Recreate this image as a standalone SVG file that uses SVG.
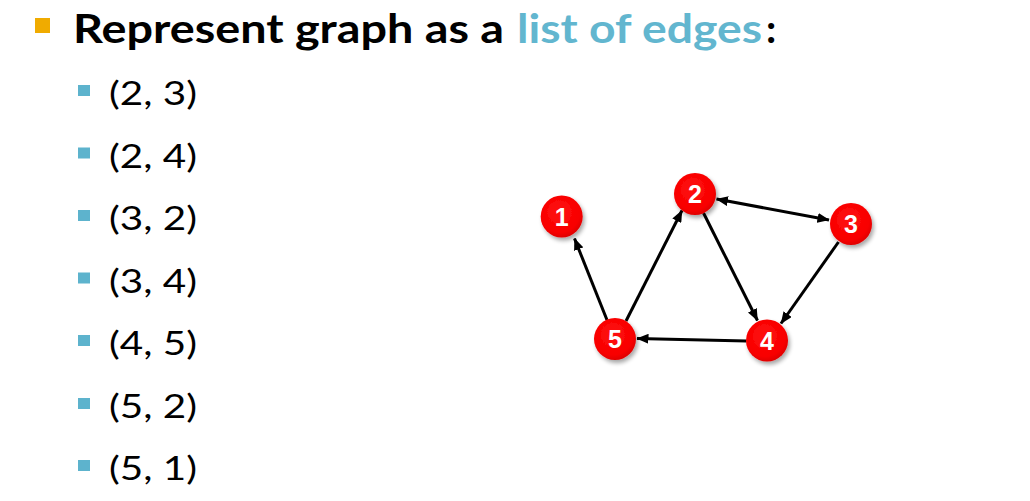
<svg xmlns="http://www.w3.org/2000/svg" width="1030" height="501" viewBox="0 0 1030 501">
<style>
.title{font-family:Lato,"Open Sans","Liberation Sans",sans-serif;font-weight:bold;font-size:40px;fill:#000}
.hl{fill:#62B6CF}
.item{font-family:Lato,"Open Sans","Liberation Sans",sans-serif;font-size:33px;fill:#000}
.b2{fill:#5DB3CD}
.node circle{fill:url(#rg);filter:url(#sh)}
.node text{font-family:"Liberation Sans",Arial,sans-serif;font-weight:bold;font-size:25px;fill:#fff;text-anchor:middle}
.edge{stroke:#000;stroke-width:3;fill:none;marker-end:url(#ah)}
</style>
<defs>
<radialGradient id="rg" cx="0.45" cy="0.4" r="0.6">
<stop offset="0" stop-color="#ff1010"/>
<stop offset="0.8" stop-color="#f80000"/>
<stop offset="1" stop-color="#e00000"/>
</radialGradient>
<filter id="sh" x="-30%" y="-30%" width="170%" height="170%">
<feGaussianBlur in="SourceAlpha" stdDeviation="2"/>
<feOffset dx="1.5" dy="3" result="b"/>
<feComponentTransfer><feFuncA type="linear" slope="0.35"/></feComponentTransfer>
<feMerge><feMergeNode/><feMergeNode in="SourceGraphic"/></feMerge>
</filter>
<marker id="ah" markerUnits="userSpaceOnUse" markerWidth="12" markerHeight="10" refX="11.5" refY="5" orient="auto-start-reverse">
<path d="M0,0 L12,5 L0,10 z" fill="#000"/>
</marker>
</defs>
<g id="header">
<rect x="35" y="18" width="15" height="15" fill="#F0AB00"/>
<text class="title" x="73" y="43" textLength="431" lengthAdjust="spacingAndGlyphs">Represent graph as a</text>
<text class="title hl" x="517" y="43" textLength="245" lengthAdjust="spacingAndGlyphs">list of edges</text>
<text class="title" x="766" y="43">:</text>
</g>
<g id="list">
<rect class="b2" x="78" y="85" width="12" height="11"/>
<text class="item" x="109" y="105" textLength="88" lengthAdjust="spacingAndGlyphs">(2, 3)</text>
<rect class="b2" x="78" y="147.5" width="12" height="11"/>
<text class="item" x="109" y="167.5" textLength="88" lengthAdjust="spacingAndGlyphs">(2, 4)</text>
<rect class="b2" x="78" y="210" width="12" height="11"/>
<text class="item" x="109" y="230" textLength="88" lengthAdjust="spacingAndGlyphs">(3, 2)</text>
<rect class="b2" x="78" y="272.5" width="12" height="11"/>
<text class="item" x="109" y="292.5" textLength="88" lengthAdjust="spacingAndGlyphs">(3, 4)</text>
<rect class="b2" x="78" y="335" width="12" height="11"/>
<text class="item" x="109" y="355" textLength="88" lengthAdjust="spacingAndGlyphs">(4, 5)</text>
<rect class="b2" x="78" y="398" width="12" height="11"/>
<text class="item" x="109" y="418" textLength="88" lengthAdjust="spacingAndGlyphs">(5, 2)</text>
<rect class="b2" x="78" y="460" width="12" height="11"/>
<text class="item" x="109" y="480" textLength="88" lengthAdjust="spacingAndGlyphs">(5, 1)</text>
</g>
<g id="connectors">
<line class="edge" x1="716.5" y1="199" x2="829" y2="220" marker-start="url(#ah)"/>
<line class="edge" x1="703.5" y1="213" x2="757.5" y2="320.5"/>
<line class="edge" x1="838.5" y1="242" x2="781" y2="323.5"/>
<line class="edge" x1="746.5" y1="341" x2="637" y2="338.5"/>
<line class="edge" x1="626" y1="321" x2="682" y2="210.5"/>
<line class="edge" x1="607" y1="320" x2="574.5" y2="238.5"/>
</g>
<g id="node1" class="node"><circle cx="561.7" cy="216.5" r="21"/><text x="561.7" y="225.5">1</text></g>
<g id="node2" class="node"><circle cx="695" cy="194" r="21"/><text x="695" y="203">2</text></g>
<g id="node3" class="node"><circle cx="851" cy="224" r="21"/><text x="851" y="233">3</text></g>
<g id="node4" class="node"><circle cx="767" cy="340.5" r="21"/><text x="767" y="349.5">4</text></g>
<g id="node5" class="node"><circle cx="615" cy="339" r="21"/><text x="615" y="348">5</text></g>
</svg>
